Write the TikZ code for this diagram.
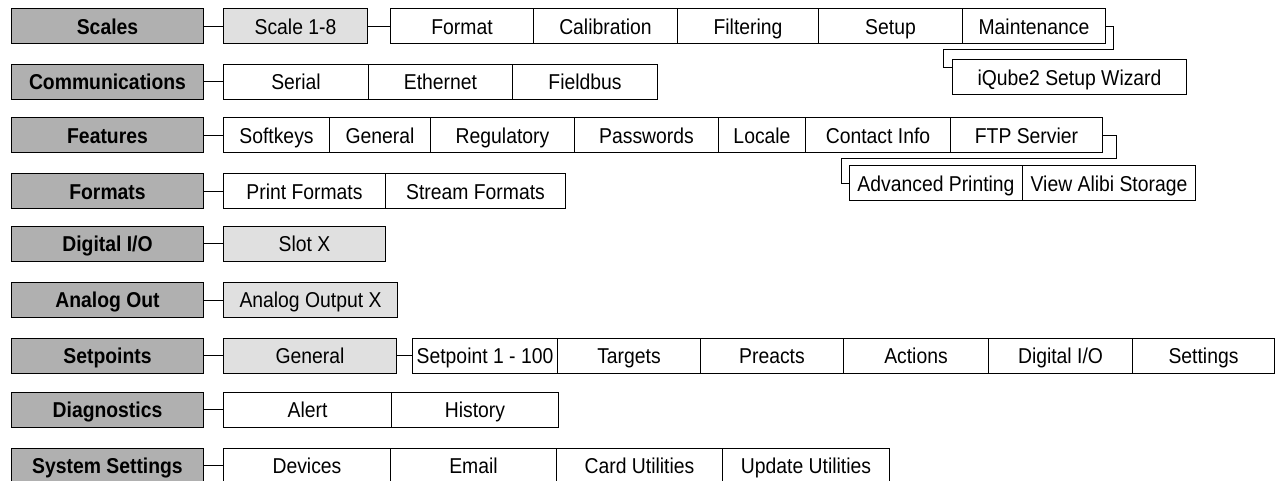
\documentclass[tikz,border=0pt]{standalone}
\usepackage{fontspec}
\setmainfont{Liberation Sans}[FakeStretch=0.9]
\definecolor{maingray}{HTML}{B0B0B0}
\definecolor{lightgray}{HTML}{E0E0E0}
\tikzset{
  basebox/.style={draw=black, line width=1pt, inner sep=0pt, minimum height=35pt,
    anchor=west, text height=18.5pt, text depth=3pt, font=\fontsize{21.5}{24}\selectfont},
  mainbox/.style={basebox, fill=maingray, minimum width=192pt, font=\fontsize{21.5}{24}\selectfont\bfseries},
  subbox/.style={basebox, fill=white},
  litebox/.style={basebox, fill=lightgray},
  conn/.style={draw=black, line width=1pt},
}
\begin{document}
\begin{tikzpicture}[x=1pt,y=-1pt]
\useasboundingbox (0,0) rectangle (1275,481);
% Row 1
\node[mainbox] (scales) at (11,26.5) {Scales};
\node[litebox, minimum width=144pt] (s18) at (223,26.5) {Scale 1-8};
\node[subbox, minimum width=143pt] (fmt) at (390,26.5) {Format};
\node[subbox, minimum width=144pt] (cal) at (533,26.5) {Calibration};
\node[subbox, minimum width=141pt] (fil) at (677,26.5) {Filtering};
\node[subbox, minimum width=144pt] (setup) at (818,26.5) {Setup};
\node[subbox, minimum width=143pt] (mnt) at (962,26.5) {Maintenance};
\node[subbox, minimum width=234pt] (iq) at (952,77.5) {iQube2 Setup Wizard};
% Row 2
\node[mainbox] (comm) at (11,82) {Communications};
\node[subbox, minimum width=145pt] (ser) at (223,82) {Serial};
\node[subbox, minimum width=144pt] (eth) at (368,82) {Ethernet};
\node[subbox, minimum width=145pt] (fbus) at (512,82) {Fieldbus};
% Row 3
\node[mainbox] (feat) at (11,135.5) {Features};
\node[subbox, minimum width=106pt] (soft) at (223,135.5) {Softkeys};
\node[subbox, minimum width=101pt] (fgen) at (329,135.5) {General};
\node[subbox, minimum width=144pt] (reg) at (430,135.5) {Regulatory};
\node[subbox, minimum width=144pt] (pw) at (574,135.5) {Passwords};
\node[subbox, minimum width=87pt] (loc) at (718,135.5) {Locale};
\node[subbox, minimum width=145pt] (ci) at (805,135.5) {Contact Info};
\node[subbox, minimum width=152pt] (ftp) at (950,135.5) {FTP Servier};
\node[subbox, minimum width=173pt] (adv) at (849,183.5) {Advanced Printing};
\node[subbox, minimum width=173pt] (alibi) at (1022,183.5) {View Alibi Storage};
% Row 4
\node[mainbox] (fmts) at (11,191.5) {Formats};
\node[subbox, minimum width=162pt] (pf) at (223,191.5) {Print Formats};
\node[subbox, minimum width=180pt] (sf) at (385,191.5) {Stream Formats};
% Row 5
\node[mainbox] (dio) at (11,244) {Digital I/O};
\node[litebox, minimum width=162pt] (slot) at (223,244) {Slot X};
% Row 6
\node[mainbox] (aout) at (11,300) {Analog Out};
\node[litebox, minimum width=174pt] (aox) at (223,300) {Analog Output X};
% Row 7
\node[mainbox] (setp) at (11,355.5) {Setpoints};
\node[litebox, minimum width=173pt] (spgen) at (223,355.5) {General};
\node[subbox, minimum width=145pt] (sp) at (412,355.5) {Setpoint 1 - 100};
\node[subbox, minimum width=143pt] (tgt) at (557,355.5) {Targets};
\node[subbox, minimum width=143pt] (pre) at (700,355.5) {Preacts};
\node[subbox, minimum width=145pt] (act) at (843,355.5) {Actions};
\node[subbox, minimum width=144pt] (sdio) at (988,355.5) {Digital I/O};
\node[subbox, minimum width=142pt] (sset) at (1132,355.5) {Settings};
% Row 8
\node[mainbox] (diag) at (11,409.5) {Diagnostics};
\node[subbox, minimum width=168pt] (alert) at (223,409.5) {Alert};
\node[subbox, minimum width=167pt] (hist) at (391,409.5) {History};
% Row 9
\node[mainbox] (sys) at (11,465.5) {System Settings};
\node[subbox, minimum width=167pt] (dev) at (223,465.5) {Devices};
\node[subbox, minimum width=166pt] (email) at (390,465.5) {Email};
\node[subbox, minimum width=166pt] (card) at (556,465.5) {Card Utilities};
\node[subbox, minimum width=167pt] (upd) at (722,465.5) {Update Utilities};
% Connectors
\draw[conn] (scales.east) -- (s18.west);
\draw[conn] (s18.east) -- (fmt.west);
\coordinate (m1) at (1113,26.5);
\coordinate (m2) at (1113,50);
\coordinate (m3) at (943,50);
\coordinate (m4) at (943,68);
\coordinate (m5) at (952,68);
\draw[conn] (mnt.east) -- (m1) -- (m2) -- (m3) -- (m4) -- (m5);
\draw[conn] (comm.east) -- (ser.west);
\draw[conn] (feat.east) -- (soft.west);
\coordinate (f1) at (1116,135.5);
\coordinate (f2) at (1116,159);
\coordinate (f3) at (841,159);
\coordinate (f4) at (841,183.5);
\draw[conn] (ftp.east) -- (f1) -- (f2) -- (f3) -- (f4) -- (adv.west);
\draw[conn] (fmts.east) -- (pf.west);
\draw[conn] (dio.east) -- (slot.west);
\draw[conn] (aout.east) -- (aox.west);
\draw[conn] (setp.east) -- (spgen.west);
\draw[conn] (spgen.east) -- (sp.west);
\draw[conn] (diag.east) -- (alert.west);
\draw[conn] (sys.east) -- (dev.west);
\end{tikzpicture}
\end{document}
